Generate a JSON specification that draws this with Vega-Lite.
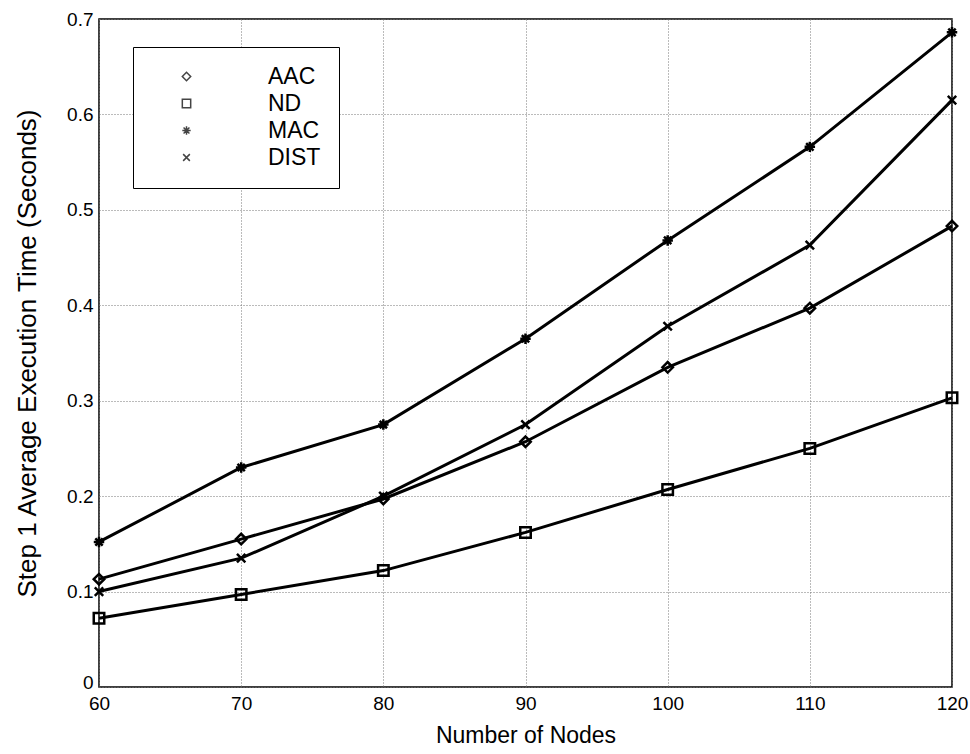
{
  "$schema": "https://vega.github.io/schema/vega-lite/v6.json",
  "autosize": "none",
  "width": 853,
  "height": 668,
  "padding": {"left": 99, "top": 19, "right": 18, "bottom": 67},
  "background": "white",
  "config": {
    "font": "Liberation Sans",
    "view": {"stroke": "black", "strokeWidth": 1.5},
    "axis": {
      "domain": false,
      "ticks": false,
      "grid": true,
      "gridColor": "#777",
      "gridDash": [1, 2],
      "gridWidth": 1,
      "labelFlush": false,
      "labelFont": "Liberation Sans",
      "labelColor": "black",
      "titleColor": "black",
      "titleFont": "Liberation Sans",
      "titleFontWeight": "normal"
    }
  },
  "data": {
    "values": [
      {"n": 60, "series": "AAC", "t": 0.113},
      {"n": 70, "series": "AAC", "t": 0.155},
      {"n": 80, "series": "AAC", "t": 0.197},
      {"n": 90, "series": "AAC", "t": 0.257},
      {"n": 100, "series": "AAC", "t": 0.335},
      {"n": 110, "series": "AAC", "t": 0.397},
      {"n": 120, "series": "AAC", "t": 0.483},
      {"n": 60, "series": "ND", "t": 0.072},
      {"n": 70, "series": "ND", "t": 0.097},
      {"n": 80, "series": "ND", "t": 0.122},
      {"n": 90, "series": "ND", "t": 0.162},
      {"n": 100, "series": "ND", "t": 0.207},
      {"n": 110, "series": "ND", "t": 0.25},
      {"n": 120, "series": "ND", "t": 0.303},
      {"n": 60, "series": "MAC", "t": 0.152},
      {"n": 70, "series": "MAC", "t": 0.23},
      {"n": 80, "series": "MAC", "t": 0.275},
      {"n": 90, "series": "MAC", "t": 0.365},
      {"n": 100, "series": "MAC", "t": 0.468},
      {"n": 110, "series": "MAC", "t": 0.566},
      {"n": 120, "series": "MAC", "t": 0.686},
      {"n": 60, "series": "DIST", "t": 0.1},
      {"n": 70, "series": "DIST", "t": 0.135},
      {"n": 80, "series": "DIST", "t": 0.2},
      {"n": 90, "series": "DIST", "t": 0.275},
      {"n": 100, "series": "DIST", "t": 0.378},
      {"n": 110, "series": "DIST", "t": 0.463},
      {"n": 120, "series": "DIST", "t": 0.615}
    ]
  },
  "encoding": {
    "x": {
      "field": "n",
      "type": "quantitative",
      "scale": {"domain": [60, 120], "nice": false, "zero": false},
      "axis": {
        "values": [60, 70, 80, 90, 100, 110, 120],
        "title": "Number of Nodes",
        "labelFontSize": 19,
        "labelPadding": 7,
        "titleFontSize": 23,
        "titlePadding": 11
      }
    },
    "y": {
      "field": "t",
      "type": "quantitative",
      "scale": {"domain": [0, 0.7], "nice": false},
      "axis": {
        "values": [0, 0.1, 0.2, 0.3, 0.4, 0.5, 0.6, 0.7],
        "format": ".1~f",
        "title": "Step 1 Average Execution Time (Seconds)",
        "labelFontSize": 19,
        "labelPadding": 6,
        "labelOffset": {"condition": {"test": "datum.value === 0", "value": -5}, "value": 0},
        "titleFontSize": 26,
        "titlePadding": 26
      }
    }
  },
  "layer": [
    {
      "mark": {"type": "line", "color": "black", "strokeWidth": 3},
      "encoding": {"detail": {"field": "series"}}
    },
    {
      "mark": {"type": "point", "filled": false, "stroke": "black", "strokeWidth": 2.5, "size": 110, "opacity": 1},
      "encoding": {
        "shape": {
          "field": "series",
          "type": "nominal",
          "scale": {
            "domain": ["AAC", "ND", "MAC", "DIST"],
            "range": [
              "diamond",
              "square",
              "M-1,0L1,0M0,-1L0,1M-0.7,-0.7L0.7,0.7M-0.7,0.7L0.7,-0.7",
              "M-0.8,-0.8L0.8,0.8M-0.8,0.8L0.8,-0.8"
            ]
          },
          "legend": {
            "title": null,
            "orient": "none",
            "legendX": 34,
            "legendY": 28,
            "fillColor": "white",
            "strokeColor": "black",
            "padding": 18,
            "symbolOffset": 24,
            "labelOffset": 70,
            "labelFontSize": 23,
            "labelFont": "Liberation Sans",
            "labelColor": "black",
            "rowPadding": 3,
            "symbolSize": 70,
            "symbolStrokeColor": "#444",
            "symbolFillColor": "transparent",
            "symbolStrokeWidth": 1.5
          }
        }
      }
    }
  ]
}
